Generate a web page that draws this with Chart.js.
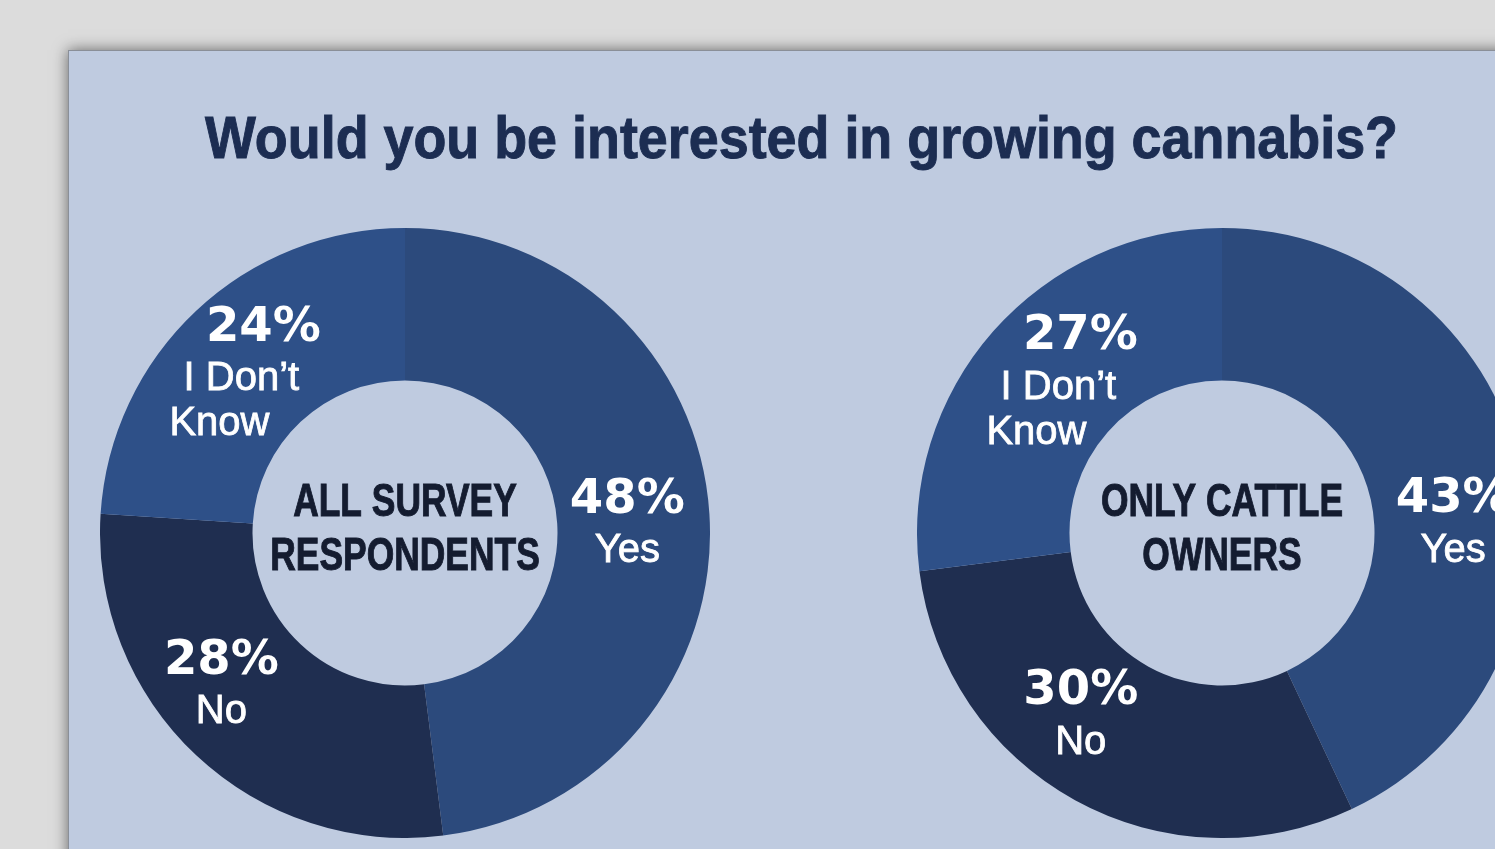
<!DOCTYPE html>
<html lang="en">
<head>
    <meta charset="UTF-8">
    <script src="https://cdn.jsdelivr.net/npm/chart.js"></script>
    <style>
        body { margin: 0; padding: 0; width: 1495px; height: 849px; overflow: hidden; background: #dcdcdc; position: relative; }

        /* light blue card with the soft shadow */
        .panel {
            position: absolute; left: 68px; top: 50px; width: 1500px; height: 900px;
            background: #bfcbe0; border: 1px solid #8a8f98;
            box-shadow: 0 0 14px rgba(0,0,0,0.55);
        }
        h1 {
            position: absolute; left: 0; width: 1602px; top: 103px; margin: 0;
            text-align: center; color: #1c2d52; line-height: 60px;
            font: bold 60px "Liberation Sans", Arial, sans-serif;
            -webkit-text-stroke: 1px #1c2d52;
        }
        h1 span { display: inline-block; transform-origin: 50% 50%; }
        .pie { position: absolute; top: 228px; width: 610px; height: 610px; }
    </style>
</head>
<body>
    <div class="panel"></div>
    <h1><span id="title"></span></h1>
    <div class="pie" style="left:100px"><canvas id="allChart"></canvas></div>
    <div class="pie" style="left:917px"><canvas id="cattleChart"></canvas></div>

    <script>
        const titleText = 'Would you be interested in growing cannabis?';
        const categories = ['Yes', 'No', 'I Don’t Know'];
        const allRespondents = [48, 28, 24];
        const cattleOwners = [43, 30, 27];
        const groupNames = [['ALL SURVEY', 'RESPONDENTS'], ['ONLY CATTLE', 'OWNERS']];

        const sliceColors = ['#2c4a7c', '#1f2e50', '#2e5088'];

        // no condensed font installed, so squeeze a normal bold one
        const titleEl = document.getElementById('title');
        titleEl.textContent = titleText;
        const titleW = titleEl.getBoundingClientRect().width;
        titleEl.style.transform = 'scaleX(' + (1193 / titleW) + ')';

        // split "I Don't Know" onto two lines like the original
        function wrapLabel(label) {
            const words = label.split(' ');
            if (words.length < 3) return [label];
            return [words.slice(0, -1).join(' '), words[words.length - 1]];
        }

        // --- PLUGIN: percent + label inside each slice, group name in the hole ---
        const sliceLabels = {
            id: 'sliceLabels',
            afterDatasetsDraw(chart, args, opts) {
                const ctx = chart.ctx;
                const meta = chart.getDatasetMeta(0);
                const values = chart.data.datasets[0].data;
                const nudge = opts.nudge || [];
                ctx.save();
                ctx.textAlign = 'center';
                ctx.textBaseline = 'middle';
                ctx.fillStyle = '#ffffff';
                ctx.strokeStyle = '#ffffff';
                ctx.lineWidth = 0.8;

                meta.data.forEach((arc, i) => {
                    const p = arc.tooltipPosition();
                    const d = nudge[i] || [0, 0];
                    const cx = p.x + d[0];
                    const lines = wrapLabel(chart.data.labels[i]);
                    const lean = lines.length > 1 ? 22 : 0; // staggered lines
                    const blockH = 50 + lines.length * 45;
                    let y = p.y + d[1] - blockH / 2 + 22;
                    ctx.font = 'bold 48px "DejaVu Sans"';
                    ctx.fillText(values[i] + '%', cx + lean, y);
                    y += 51;
                    ctx.font = '40px "Liberation Sans"';
                    lines.forEach((line, k) => {
                        ctx.fillText(line, cx - k * lean, y);
                        ctx.strokeText(line, cx - k * lean, y);
                        y += 45;
                    });
                });

                // center text, condensed by scaling
                const c = meta.data[0];
                ctx.fillStyle = '#141c30';
                ctx.strokeStyle = '#141c30';
                ctx.lineWidth = 1;
                ctx.font = 'bold 46px "Liberation Sans", Arial, sans-serif';
                (opts.lines || []).forEach((line, k) => {
                    ctx.save();
                    ctx.translate(c.x, c.y - 30 + k * 54);
                    ctx.scale(0.77, 1);
                    ctx.fillText(line, 0, 0);
                    ctx.strokeText(line, 0, 0);
                    ctx.restore();
                });
                ctx.restore();
            }
        };

        function makeDoughnut(id, values, names, nudge) {
            const ctx = document.getElementById(id).getContext('2d');
            return new Chart(ctx, {
                type: 'doughnut',
                data: {
                    labels: categories,
                    datasets: [{
                        data: values,
                        backgroundColor: sliceColors,
                        borderWidth: 0
                    }]
                },
                options: {
                    responsive: true,
                    maintainAspectRatio: false,
                    animation: false,
                    cutout: '50%',
                    layout: { padding: 0 },
                    plugins: {
                        legend: { display: false },
                        tooltip: { enabled: false },
                        sliceLabels: { lines: names, nudge: nudge }
                    }
                },
                plugins: [sliceLabels]
            });
        }

        makeDoughnut('allChart', allRespondents, groupNames[0], [[-6, 7], [-27, -13], [-7, 10]]);
        makeDoughnut('cattleChart', cattleOwners, groupNames[1], [[8, 42], [-31, -16], [8, 3]]);
    </script>
</body>
</html>
